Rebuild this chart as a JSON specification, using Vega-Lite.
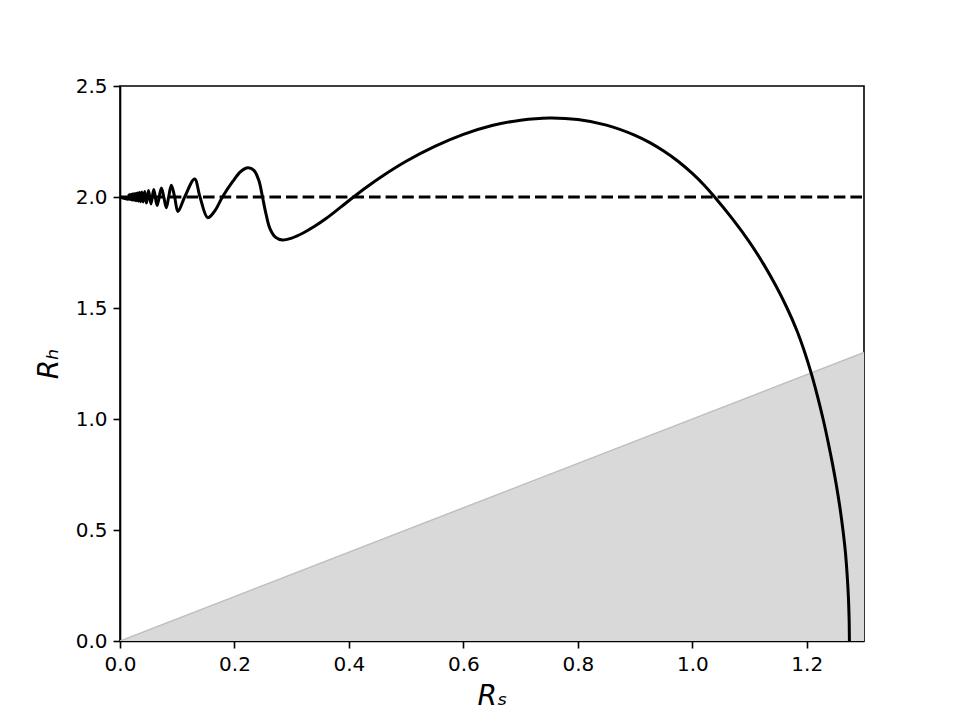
{
  "$schema": "https://vega.github.io/schema/vega-lite/v6.json",
  "width": 744,
  "height": 555,
  "autosize": {"type": "none"},
  "padding": {"left": 120, "top": 86, "right": 96, "bottom": 79},
  "background": "white",
  "config": {
    "font": "DejaVu Sans",
    "view": {"stroke": "black", "strokeWidth": 1.6},
    "axis": {
      "grid": false,
      "domainColor": "black",
      "domainWidth": 1.6,
      "tickColor": "black",
      "tickWidth": 1.6,
      "tickSize": 7,
      "labelPadding": 6,
      "labelFlush": false,
      "labelFontSize": 20,
      "labelColor": "black",
      "labelFont": "DejaVu Sans",
      "titleFont": "DejaVu Sans",
      "titleFontSize": 28,
      "titleFontWeight": "normal",
      "titleFontStyle": "italic",
      "titleColor": "black"
    }
  },
  "datasets": {
    "shade": [
      {"x": 0, "y": 0},
      {"x": 1.3, "y": 1.3}
    ],
    "ref": [
      {"x": 0, "y": 2},
      {"x": 1.3, "y": 2}
    ],
    "curve": [
      {"x": 0, "y": 2.0},
      {"x": 0.0154, "y": 1.991},
      {"x": 0.0158, "y": 2.0092},
      {"x": 0.0162, "y": 1.9906},
      {"x": 0.0166, "y": 2.0096},
      {"x": 0.017, "y": 1.99},
      {"x": 0.0175, "y": 2.0102},
      {"x": 0.018, "y": 1.9896},
      {"x": 0.0185, "y": 2.0107},
      {"x": 0.019, "y": 1.989},
      {"x": 0.0196, "y": 2.0114},
      {"x": 0.0202, "y": 1.988},
      {"x": 0.0209, "y": 2.012},
      {"x": 0.0216, "y": 1.987},
      {"x": 0.0223, "y": 2.013},
      {"x": 0.0231, "y": 1.987},
      {"x": 0.024, "y": 2.014},
      {"x": 0.0249, "y": 1.986},
      {"x": 0.0259, "y": 2.015},
      {"x": 0.027, "y": 1.984},
      {"x": 0.0281, "y": 2.016},
      {"x": 0.0294, "y": 1.983},
      {"x": 0.0308, "y": 2.018},
      {"x": 0.0324, "y": 1.981},
      {"x": 0.0341, "y": 2.02},
      {"x": 0.036, "y": 1.979},
      {"x": 0.0381, "y": 2.022},
      {"x": 0.0405, "y": 1.977},
      {"x": 0.0432, "y": 2.025},
      {"x": 0.0463, "y": 1.973},
      {"x": 0.0499, "y": 2.029},
      {"x": 0.0541, "y": 1.969},
      {"x": 0.059, "y": 2.034},
      {"x": 0.0649, "y": 1.962},
      {"x": 0.0722, "y": 2.04},
      {"x": 0.0765, "y": 2.0},
      {"x": 0.0809, "y": 1.952},
      {"x": 0.085, "y": 2.0},
      {"x": 0.0897, "y": 2.053},
      {"x": 0.0955, "y": 2.0},
      {"x": 0.1013, "y": 1.935},
      {"x": 0.113, "y": 2.0},
      {"x": 0.1304, "y": 2.081},
      {"x": 0.1398, "y": 2.0},
      {"x": 0.1532, "y": 1.907},
      {"x": 0.165, "y": 1.935},
      {"x": 0.179, "y": 2.0},
      {"x": 0.197, "y": 2.07},
      {"x": 0.211, "y": 2.115},
      {"x": 0.2235, "y": 2.132},
      {"x": 0.234, "y": 2.12},
      {"x": 0.2425, "y": 2.075},
      {"x": 0.249, "y": 2.0},
      {"x": 0.255, "y": 1.925},
      {"x": 0.262, "y": 1.858},
      {"x": 0.272, "y": 1.818},
      {"x": 0.2839, "y": 1.806},
      {"x": 0.3, "y": 1.815},
      {"x": 0.32, "y": 1.838},
      {"x": 0.34, "y": 1.868},
      {"x": 0.36, "y": 1.903},
      {"x": 0.385, "y": 1.953},
      {"x": 0.408, "y": 2.0},
      {"x": 0.43, "y": 2.043},
      {"x": 0.46, "y": 2.097},
      {"x": 0.5, "y": 2.161},
      {"x": 0.55, "y": 2.228},
      {"x": 0.6, "y": 2.282},
      {"x": 0.65, "y": 2.322},
      {"x": 0.7, "y": 2.346},
      {"x": 0.75, "y": 2.356},
      {"x": 0.8, "y": 2.349},
      {"x": 0.85, "y": 2.324},
      {"x": 0.9, "y": 2.278},
      {"x": 0.925, "y": 2.246},
      {"x": 0.95, "y": 2.207},
      {"x": 0.975, "y": 2.161},
      {"x": 1.0, "y": 2.106},
      {"x": 1.02, "y": 2.055},
      {"x": 1.039, "y": 2.0},
      {"x": 1.0705, "y": 1.9},
      {"x": 1.099, "y": 1.8},
      {"x": 1.124, "y": 1.7},
      {"x": 1.146, "y": 1.6},
      {"x": 1.1655, "y": 1.5},
      {"x": 1.1825, "y": 1.4},
      {"x": 1.1965, "y": 1.3},
      {"x": 1.2085, "y": 1.2},
      {"x": 1.219, "y": 1.1},
      {"x": 1.2285, "y": 1.0},
      {"x": 1.237, "y": 0.9},
      {"x": 1.2448, "y": 0.8},
      {"x": 1.2518, "y": 0.7},
      {"x": 1.258, "y": 0.6},
      {"x": 1.2632, "y": 0.5},
      {"x": 1.2675, "y": 0.4},
      {"x": 1.2705, "y": 0.3},
      {"x": 1.2727, "y": 0.2},
      {"x": 1.274, "y": 0.1},
      {"x": 1.2745, "y": 0.0}
    ]
  },
  "layer": [
    {
      "data": {"name": "shade"},
      "mark": {"type": "area", "color": "#d9d9d9", "clip": true},
      "encoding": {
        "x": {"field": "x", "type": "quantitative",
          "scale": {"domain": [0, 1.3], "nice": false, "zero": false},
          "axis": {"values": [0, 0.2, 0.4, 0.6, 0.8, 1.0, 1.2], "format": ".1f", "title": "Rₛ", "titlePadding": 8}},
        "y": {"field": "y", "type": "quantitative",
          "scale": {"domain": [0, 2.5], "nice": false, "zero": false},
          "axis": {"values": [0, 0.5, 1.0, 1.5, 2.0, 2.5], "format": ".1f", "title": "Rₕ", "titlePadding": 12}}
      }
    },
    {
      "data": {"name": "shade"},
      "mark": {"type": "line", "color": "#bfbfbf", "strokeWidth": 1.5, "clip": true},
      "encoding": {
        "x": {"field": "x", "type": "quantitative"},
        "y": {"field": "y", "type": "quantitative"}
      }
    },
    {
      "data": {"name": "ref"},
      "mark": {"type": "line", "color": "black", "strokeWidth": 3, "strokeDash": [11.6, 5], "clip": true},
      "encoding": {
        "x": {"field": "x", "type": "quantitative"},
        "y": {"field": "y", "type": "quantitative"}
      }
    },
    {
      "data": {"name": "curve"},
      "mark": {"type": "line", "color": "black", "strokeWidth": 3, "interpolate": "catmull-rom", "clip": true},
      "encoding": {
        "x": {"field": "x", "type": "quantitative", "sort": null},
        "y": {"field": "y", "type": "quantitative"}
      }
    }
  ]
}
